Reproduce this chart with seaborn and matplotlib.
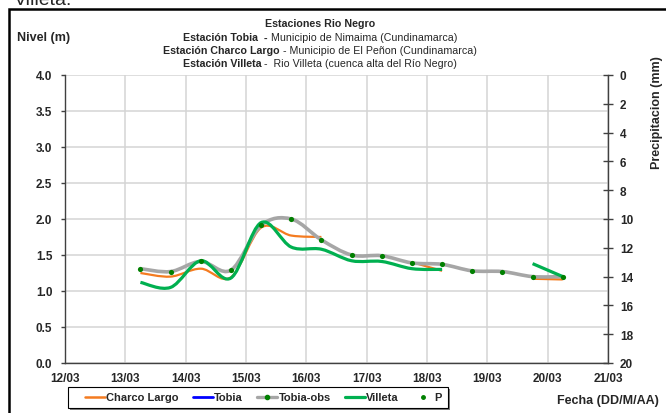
import numpy as np
import matplotlib
matplotlib.use("Agg")
import matplotlib.pyplot as plt
import seaborn as sns
from matplotlib.path import Path
from matplotlib.patches import PathPatch, Rectangle
from matplotlib.lines import Line2D

# datos (cada 12 h, dia decimal de marzo)
dias = [13.25, 13.75, 14.25, 14.75, 15.25, 15.75, 16.25, 16.75,
        17.25, 17.75, 18.25, 18.75, 19.25, 19.75, 20.25]
tobia_obs = [1.31, 1.27, 1.41, 1.29, 1.91, 2.00, 1.71, 1.50,
             1.49, 1.39, 1.37, 1.28, 1.27, 1.20, 1.20]
charco_largo = [1.25, 1.20, 1.31, 1.19, 1.88, 1.77, 1.75, np.nan,
                np.nan, 1.40, 1.28, np.nan, np.nan, 1.17, 1.16]
villeta = [1.12, 1.05, 1.42, 1.18, 1.95, 1.61, 1.58, 1.42,
           1.41, 1.31, 1.30, np.nan, np.nan, 1.38, 1.20]
tobia = [np.nan] * 15
precip = [np.nan] * 15

x_ticks = list(range(12, 22))
x_labels = ["12/03", "13/03", "14/03", "15/03", "16/03", "17/03",
            "18/03", "19/03", "20/03", "21/03"]

c_orange = "#F47B20"
c_blue = "#0000FF"
c_gray = "#A6A6A6"
c_green = "#00B050"
c_dot = "#008000"

W, H = 666, 414
sns.set_style("white")
plt.rcParams["font.family"] = ["Liberation Sans", "DejaVu Sans"]


def fx(px):
    return px / W


def fy(py):
    return 1 - py / H


def curva_suave(ax, x, y, color, lw, z):
    # linea suavizada tipo Excel (Catmull-Rom -> Bezier), cortada en huecos
    x = np.asarray(x, float)
    y = np.asarray(y, float)
    ok = ~np.isnan(y)
    tramos, actual = [], []
    for i in range(len(x)):
        if ok[i]:
            actual.append(i)
        else:
            if actual:
                tramos.append(actual)
            actual = []
    if actual:
        tramos.append(actual)
    for t in tramos:
        px, py = x[t], y[t]
        n = len(px)
        if n < 2:
            continue
        verts = [(px[0], py[0])]
        codes = [Path.MOVETO]
        for i in range(n - 1):
            i0 = max(i - 1, 0)
            i3 = min(i + 2, n - 1)
            c1 = (px[i] + (px[i + 1] - px[i0]) / 6, py[i] + (py[i + 1] - py[i0]) / 6)
            c2 = (px[i + 1] - (px[i3] - px[i]) / 6, py[i + 1] - (py[i3] - py[i]) / 6)
            verts += [c1, c2, (px[i + 1], py[i + 1])]
            codes += [Path.CURVE4] * 3
        ax.add_patch(PathPatch(Path(verts, codes), facecolor="none", edgecolor=color,
                               lw=lw, capstyle="butt", joinstyle="round", zorder=z))


fig = plt.figure(figsize=(W / 100, H / 100), dpi=100)
ax = fig.add_axes([fx(65), fy(364), fx(608) - fx(65), fy(76) - fy(364)])

curva_suave(ax, dias, charco_largo, c_orange, 1.6, 3)
curva_suave(ax, dias, tobia_obs, c_gray, 2.6, 4)
curva_suave(ax, dias, tobia, c_blue, 2.0, 5)
curva_suave(ax, dias, villeta, c_green, 2.3, 6)
sns.scatterplot(x=dias, y=tobia_obs, color=c_dot, s=14, linewidth=0, ax=ax,
                zorder=7, legend=False)

ax.set_xlim(12, 21)
ax.set_ylim(0, 4)
ax.set_xticks(x_ticks)
ax.set_xticklabels(x_labels)
ax.set_yticks(np.arange(0, 4.01, 0.5))
ax.set_yticklabels([f"{v:.1f}" for v in np.arange(0, 4.01, 0.5)])
ax.grid(True, color="#D4D4D4", lw=1.1)
ax.set_axisbelow(True)
for s in ["top", "right"]:
    ax.spines[s].set_visible(False)
for s in ["left", "bottom"]:
    ax.spines[s].set_color("#404040")
    ax.spines[s].set_linewidth(1.0)
ax.tick_params(axis="y", direction="out", length=3, width=1, color="#404040",
               pad=6, labelsize=8.5)
ax.tick_params(axis="x", direction="inout", length=7, width=1, color="#404040",
               pad=3, labelsize=8.5)
for lab in ax.get_xticklabels() + ax.get_yticklabels():
    lab.set_fontweight("bold")

ax2 = ax.twinx()
sns.scatterplot(x=dias, y=precip, color=c_dot, s=8, ax=ax2, legend=False)
ax2.set_ylim(20, 0)
ax2.set_yticks(range(0, 21, 2))
for s in ["top", "left", "bottom"]:
    ax2.spines[s].set_visible(False)
ax2.spines["right"].set_color("#404040")
ax2.spines["right"].set_linewidth(1.0)
ax2.tick_params(axis="y", direction="inout", length=7, width=1, color="#404040",
                pad=5, labelsize=8.5)
for lab in ax2.get_yticklabels():
    lab.set_fontweight("bold")

# marco del grafico
fig.patches.append(Rectangle((fx(9), -0.1), 1.2, fy(10) + 0.1, transform=fig.transFigure,
                             facecolor="none", edgecolor="black", lw=1.8))
fig.text(fx(14), fy(5), "Villeta:", fontsize=14, va="baseline", ha="left")

# titulos
fs = 7.7
fig.text(fx(320), fy(24), "Estaciones Rio Negro", fontsize=fs, fontweight="bold",
         ha="center", va="center")
lineas = [
    (38, "Estación Tobia  -", " Municipio de Nimaima (Cundinamarca)"),
    (51, "Estación Charco Largo", " - Municipio de El Peñon (Cundinamarca)"),
    (64, "Estación Villeta", " -  Rio Villeta (cuenca alta del Río Negro)"),
]
rend = fig.canvas.get_renderer()
for py, negrita, normal in lineas:
    t1 = fig.text(0, fy(py), negrita, fontsize=fs, fontweight="bold", va="center")
    t2 = fig.text(0, fy(py), normal, fontsize=fs, va="center")
    w1 = t1.get_window_extent(rend).width
    w2 = t2.get_window_extent(rend).width
    x0 = 320 - (w1 + w2) / 2
    t1.set_x(fx(x0))
    t2.set_x(fx(x0 + w1))

fig.text(fx(17), fy(38), "Nivel (m)", fontsize=9, fontweight="bold", va="center")
fig.text(fx(657), fy(113), "Precipitacion (mm)", fontsize=9, fontweight="bold",
         rotation=90, ha="center", va="center")
fig.text(fx(557), fy(401), "Fecha (DD/M/AA)", fontsize=9, fontweight="bold",
         va="center")

# caja de la leyenda con sombra
fig.patches.append(Rectangle((fx(70), fy(411)), fx(380), fy(390) - fy(411),
                             transform=fig.transFigure, facecolor="#808080",
                             edgecolor="none", zorder=1))
fig.patches.append(Rectangle((fx(68), fy(409)), fx(380), fy(388) - fy(409),
                             transform=fig.transFigure, facecolor="white",
                             edgecolor="black", lw=0.8, zorder=2))

handles = [
    Line2D([], [], color=c_orange, lw=1.8),
    Line2D([], [], color=c_blue, lw=2.0),
    Line2D([], [], color=c_gray, lw=2.4, marker="o", markersize=3,
           markerfacecolor=c_dot, markeredgecolor=c_dot),
    Line2D([], [], color=c_green, lw=2.3),
    Line2D([], [], color=c_dot, lw=0, marker="o", markersize=2.5),
]
labels = ["Charco Largo", "Tobia", "Tobia-obs", "Villeta", "P"]
leg = fig.legend(handles, labels, loc="center left", bbox_to_anchor=(fx(85), fy(398.5)),
                 ncol=5, frameon=False, prop={"weight": "bold", "size": 8},
                 handlelength=1.8, handletextpad=0.1, columnspacing=1.3,
                 borderpad=0, borderaxespad=0)
leg.set_zorder(3)

fig.savefig("out.png", dpi=100)
